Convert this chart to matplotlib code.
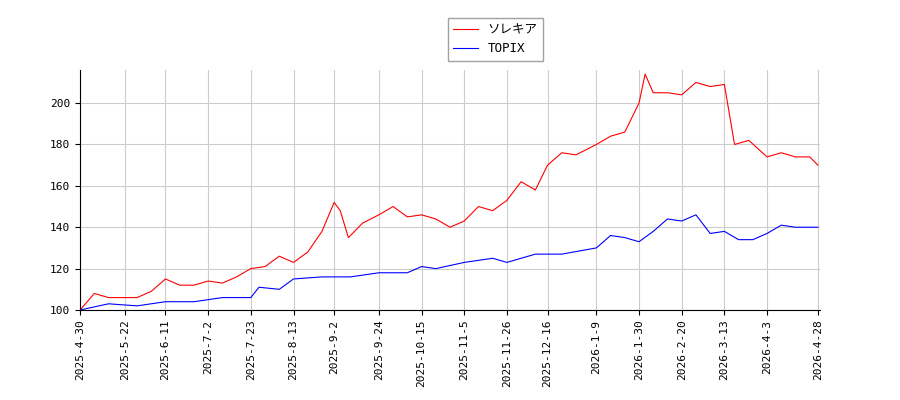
import pandas as pd
import matplotlib
matplotlib.use('Agg')
import matplotlib.pyplot as plt

plt.rcParams['font.family'] = ['DejaVu Sans Mono', 'Noto Sans CJK JP']

red_dates = ['2025-04-30', '2025-05-07', '2025-05-14', '2025-05-21', '2025-05-28', '2025-06-04',
             '2025-06-11', '2025-06-18', '2025-06-25', '2025-07-02', '2025-07-09', '2025-07-16',
             '2025-07-23', '2025-07-30', '2025-08-06', '2025-08-13', '2025-08-20', '2025-08-27',
             '2025-09-02', '2025-09-05', '2025-09-09', '2025-09-16', '2025-09-24', '2025-10-01',
             '2025-10-08', '2025-10-15', '2025-10-22', '2025-10-29', '2025-11-05', '2025-11-12',
             '2025-11-19', '2025-11-26', '2025-12-03', '2025-12-10', '2025-12-16', '2025-12-23',
             '2025-12-30', '2026-01-09', '2026-01-16', '2026-01-23', '2026-01-30', '2026-02-02',
             '2026-02-06', '2026-02-13', '2026-02-20', '2026-02-27', '2026-03-06', '2026-03-13',
             '2026-03-18', '2026-03-25', '2026-04-03', '2026-04-10', '2026-04-17', '2026-04-24',
             '2026-04-28']
red_vals = [100, 108, 106, 106, 106, 109, 115, 112, 112, 114, 113, 116, 120, 121, 126, 123, 128,
            138, 152, 148, 135, 142, 146, 150, 145, 146, 144, 140, 143, 150, 148, 153, 162, 158,
            170, 176, 175, 180, 184, 186, 200, 214, 205, 205, 204, 210, 208, 209, 180, 182, 174,
            176, 174, 174, 170]

blue_dates = ['2025-04-30', '2025-05-14', '2025-05-28', '2025-06-11', '2025-06-25', '2025-07-09',
              '2025-07-23', '2025-07-27', '2025-08-06', '2025-08-13', '2025-08-27', '2025-09-10',
              '2025-09-24', '2025-10-08', '2025-10-15', '2025-10-22', '2025-11-05', '2025-11-19',
              '2025-11-26', '2025-12-10', '2025-12-23', '2026-01-09', '2026-01-16', '2026-01-23',
              '2026-01-30', '2026-02-06', '2026-02-13', '2026-02-20', '2026-02-27', '2026-03-06',
              '2026-03-13', '2026-03-20', '2026-03-27', '2026-04-03', '2026-04-10', '2026-04-17',
              '2026-04-28']
blue_vals = [100, 103, 102, 104, 104, 106, 106, 111, 110, 115, 116, 116, 118, 118, 121, 120, 123,
             125, 123, 127, 127, 130, 136, 135, 133, 138, 144, 143, 146, 137, 138, 134, 134, 137,
             141, 140, 140]

tick_labels = ['2025-4-30', '2025-5-22', '2025-6-11', '2025-7-2', '2025-7-23', '2025-8-13',
               '2025-9-2', '2025-9-24', '2025-10-15', '2025-11-5', '2025-11-26', '2025-12-16',
               '2026-1-9', '2026-1-30', '2026-2-20', '2026-3-13', '2026-4-3', '2026-4-28']

fig = plt.figure(figsize=(9, 4), dpi=100)
ax = fig.add_axes([0.089, 0.225, 0.822, 0.6])
ax.plot(pd.to_datetime(red_dates), red_vals, color='red', lw=0.8, label='ソレキア')
ax.plot(pd.to_datetime(blue_dates), blue_vals, color='blue', lw=0.8, label='TOPIX')
ticks = pd.to_datetime(tick_labels)
ax.set_xticks(ticks)
ax.set_xticklabels(tick_labels, rotation=90, fontsize=8)
ax.set_xlim(ticks[0], ticks[-1] + pd.Timedelta(days=1))
ax.set_ylim(100, 216)
ax.set_yticks([100, 120, 140, 160, 180, 200])
ax.tick_params(axis='y', labelsize=8)
ax.spines['top'].set_visible(False)
ax.spines['right'].set_visible(False)
ax.grid(True, color='#cccccc', lw=0.8)
fig.legend(loc='upper center', bbox_to_anchor=(0.55, 0.97), fontsize=9,
           fancybox=False, edgecolor='#888888')
fig.savefig('out.png')
